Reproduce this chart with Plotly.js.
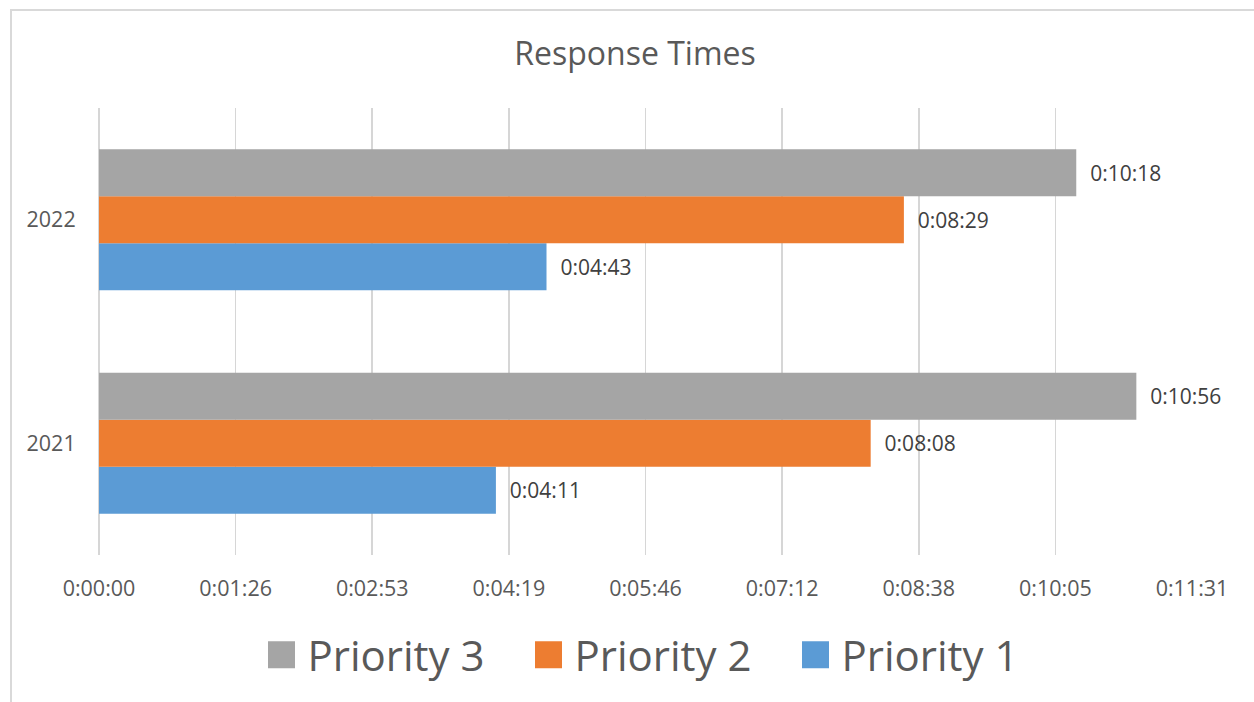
<!DOCTYPE html>
<html>
<head>
<meta charset="utf-8">
<script src="https://cdn.plot.ly/plotly-3.0.1.min.js"></script>
<style>
  html, body { margin: 0; padding: 0; background: #fff; overflow: hidden; }
  #wrap { position: relative; width: 1254px; height: 702px; }
  #chart { width: 1254px; height: 702px; }
  #frame { position: absolute; left: 10px; top: 9px; width: 1400px; height: 900px;
           border-left: 2px solid #d9d9d9; border-top: 2px solid #d9d9d9; pointer-events: none; }
</style>
</head>
<body>
<div id="wrap">
  <div id="chart"></div>
  <div id="frame"></div>
</div>
<script>
// Data (durations in seconds)
const categories = ['2021', '2022'];
const priority1 = [251, 283];   // 0:04:11, 0:04:43
const priority2 = [488, 509];   // 0:08:08, 0:08:29
const priority3 = [656, 618];   // 0:10:56, 0:10:18
const seriesNames = ['Priority 1', 'Priority 2', 'Priority 3'];
const seriesColors = ['#5b9bd5', '#ed7d31', '#a5a5a5'];
const tickLabels = ['0:00:00', '0:01:26', '0:02:53', '0:04:19', '0:05:46', '0:07:12', '0:08:38', '0:10:05', '0:11:31'];
const majorUnit = 86.4; // Excel major unit 0.001 day in seconds

function fmt(s) {
  const h = Math.floor(s / 3600);
  const m = Math.floor((s % 3600) / 60);
  const sec = Math.round(s % 60);
  return h + ':' + String(m).padStart(2, '0') + ':' + String(sec).padStart(2, '0');
}

const font = 'Open Sans, Noto Sans, sans-serif';
const allSeries = [priority1, priority2, priority3];
const traces = allSeries.map((vals, i) => ({
  type: 'bar',
  orientation: 'h',
  name: seriesNames[i],
  y: categories,
  x: vals,
  marker: { color: seriesColors[i] },
  text: vals.map(fmt),
  texttemplate: '\u00a0\u00a0%{text}',
  textposition: 'outside',
  cliponaxis: false,
  constraintext: 'none',
  textfont: { family: font, size: 21, color: '#404040' },
  hoverinfo: 'name+text'
}));

const tickVals = tickLabels.map((_, i) => i * majorUnit);

const layout = {
  width: 1254,
  height: 702,
  margin: { l: 99, r: 62, t: 108, b: 147, autoexpand: false },
  paper_bgcolor: '#ffffff',
  plot_bgcolor: '#ffffff',
  font: { family: font, color: '#595959' },
  title: {
    text: 'Response Times',
    font: { family: font, size: 32, color: '#595959' },
    xref: 'container', x: 635 / 1254, xanchor: 'center',
    yref: 'container', y: 1 - 54 / 702, yanchor: 'middle'
  },
  barmode: 'group',
  bargap: 0.37,
  bargroupgap: 0,
  xaxis: {
    range: [0, tickVals[tickVals.length - 1]],
    tickvals: tickVals,
    ticktext: tickLabels,
    tickangle: 0,
    automargin: false,
    showgrid: true,
    gridcolor: '#d6d6d6',
    gridwidth: 1.6,
    zeroline: true,
    zerolinecolor: '#d6d6d6',
    zerolinewidth: 1.6,
    showline: false,
    ticks: 'outside',
    ticklen: 14,
    tickcolor: 'rgba(0,0,0,0)',
    tickfont: { family: font, size: 21.5, color: '#595959' },
    fixedrange: true
  },
  yaxis: {
    type: 'category',
    categoryorder: 'array',
    categoryarray: categories,
    automargin: false,
    showgrid: false,
    zeroline: false,
    showline: false,
    ticks: 'outside',
    ticklen: 18,
    tickcolor: 'rgba(0,0,0,0)',
    tickfont: { family: font, size: 21.5, color: '#595959' },
    fixedrange: true
  },
  showlegend: true,
  legend: {
    orientation: 'h',
    traceorder: 'reversed',
    x: (642 + 26 - 99) / 1093, xanchor: 'center',
    y: -100 / 447, yanchor: 'middle',
    font: { family: font, size: 42, color: '#595959' },
    entrywidth: 222,
    entrywidthmode: 'pixels',
    bgcolor: 'rgba(0,0,0,0)'
  }
};

Plotly.newPlot('chart', traces, layout, { displayModeBar: false, staticPlot: true }).then(gd => {
  gd.querySelectorAll('.legend .legendpoints path').forEach(p => {
    p.setAttribute('transform', 'translate(14,0) scale(2.25)');
    p.style.strokeWidth = '0px';
  });
});
</script>
</body>
</html>
